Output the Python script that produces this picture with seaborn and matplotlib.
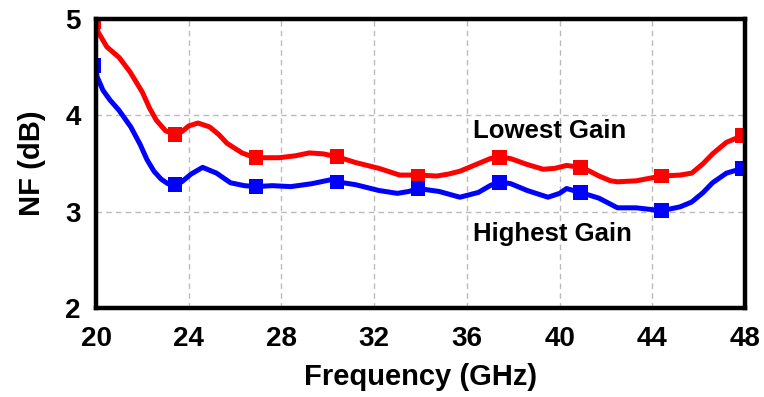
import matplotlib
matplotlib.use("Agg")
import matplotlib.pyplot as plt
import seaborn as sns
import pandas as pd

# Lowest gain curve (red)
low_freq = [19.95, 20.1, 20.47, 21.0, 21.47, 22.0, 22.3, 22.6, 23.0, 23.4, 23.7, 24.0, 24.4, 24.9, 25.3, 25.65, 26.3, 26.86,
            27.9, 28.6, 29.2, 29.8, 30.4, 31.2, 32.2, 33.1, 33.9, 34.7, 35.2, 35.7, 36.5, 37.0, 37.4, 37.9, 38.6, 39.3,
            39.8, 40.3, 40.9, 41.3, 41.7, 42.2, 42.5, 43.3, 44.4, 45.2, 45.7, 46.2, 46.6, 47.2, 47.9]
low_nf = [4.97, 4.86, 4.71, 4.60, 4.45, 4.24, 4.08, 3.95, 3.84, 3.80, 3.83, 3.89, 3.92, 3.88, 3.80, 3.71, 3.61, 3.56,
          3.56, 3.58, 3.61, 3.60, 3.57, 3.51, 3.45, 3.38, 3.38, 3.37, 3.39, 3.42, 3.50, 3.55, 3.57, 3.55, 3.49, 3.44,
          3.45, 3.48, 3.46, 3.42, 3.37, 3.32, 3.31, 3.32, 3.37, 3.38, 3.40, 3.50, 3.60, 3.72, 3.79]

# Highest gain curve (blue)
high_freq = [19.95, 20.05, 20.3, 20.6, 21.0, 21.5, 21.9, 22.2, 22.5, 22.8, 23.1, 23.4, 23.7, 24.1, 24.6, 25.2, 25.8, 26.4, 26.9,
             27.6, 28.4, 29.3, 30.1, 30.4, 31.2, 32.2, 33.0, 33.5, 33.9, 34.8, 35.7, 36.5, 37.0, 37.4, 37.9, 38.6,
             39.5, 40.0, 40.3, 40.9, 41.7, 42.5, 43.3, 44.4, 45.2, 45.7, 46.2, 46.6, 47.2, 47.9]
high_nf = [4.55, 4.40, 4.26, 4.16, 4.05, 3.88, 3.70, 3.54, 3.42, 3.34, 3.29, 3.28, 3.31, 3.39, 3.46, 3.40, 3.30, 3.27, 3.26,
           3.27, 3.26, 3.29, 3.33, 3.31, 3.28, 3.22, 3.19, 3.21, 3.24, 3.21, 3.15, 3.20, 3.27, 3.31, 3.29, 3.22,
           3.15, 3.19, 3.24, 3.20, 3.14, 3.04, 3.04, 3.01, 3.05, 3.10, 3.20, 3.30, 3.40, 3.45]

# Marker positions
mark_freq = [19.9, 23.4, 26.9, 30.4, 33.9, 37.4, 40.9, 44.4, 47.9]
mark_low = [4.97, 3.80, 3.56, 3.57, 3.37, 3.56, 3.46, 3.37, 3.79]
mark_high = [4.52, 3.28, 3.26, 3.31, 3.24, 3.30, 3.20, 3.01, 3.45]

x_ticks = [20, 24, 28, 32, 36, 40, 44, 48]
y_ticks = [2, 3, 4, 5]

sns.set_theme(style="white")
plt.rcParams['font.family'] = ['Liberation Sans', 'DejaVu Sans']
plt.rcParams['font.weight'] = 'bold'
plt.rcParams['text.color'] = 'black'
plt.rcParams['axes.labelcolor'] = 'black'
plt.rcParams['xtick.color'] = 'black'
plt.rcParams['ytick.color'] = 'black'

fig = plt.figure(figsize=(7.64, 3.97), dpi=100)
ax = fig.add_axes([96/764, 1 - 308/397, (745-96)/764, (308-19)/397])

df_low = pd.DataFrame({"Frequency": low_freq, "NF": low_nf})
df_high = pd.DataFrame({"Frequency": high_freq, "NF": high_nf})
sns.lineplot(data=df_low, x="Frequency", y="NF", ax=ax, color="#ff0000", lw=3.6, sort=False, zorder=3)
sns.lineplot(data=df_high, x="Frequency", y="NF", ax=ax, color="#0000ff", lw=3.6, sort=False, zorder=3)
sns.scatterplot(x=mark_freq, y=mark_low, ax=ax, marker="s", s=110, color="#ff0000", edgecolor="none", zorder=4)
sns.scatterplot(x=mark_freq, y=mark_high, ax=ax, marker="s", s=110, color="#0000ff", edgecolor="none", zorder=4)

ax.set_xlim(20, 48)
ax.set_ylim(2, 5)
ax.set_xticks(x_ticks)
ax.set_yticks(y_ticks)
ax.set_xticklabels([str(t) for t in x_ticks], fontsize=20, fontweight='bold', color='black')
ax.set_yticklabels([str(t) for t in y_ticks], fontsize=20, fontweight='bold', color='black')
ax.tick_params(direction='in', length=10, width=3, colors='black')
ax.tick_params(axis='x', pad=13)
ax.tick_params(axis='y', pad=11)
ax.grid(True, color='#bbbbbb', linestyle=(0, (4, 3)), linewidth=1)
for s in ax.spines.values():
    s.set_linewidth(3.2)
    s.set_color('black')
    s.set_zorder(5)

ax.set_xlabel("Frequency (GHz)", fontsize=21, fontweight='bold', labelpad=8, color='black')
ax.set_ylabel("NF (dB)", fontsize=21, fontweight='bold', labelpad=14, color='black')

ax.text(36.26, 3.84, "Lowest Gain", fontsize=18.5, fontweight='bold', color='black',
        ha='left', va='center', zorder=6)
ax.text(36.26, 2.77, "Highest Gain", fontsize=18.5, fontweight='bold', color='black',
        ha='left', va='center', zorder=6)

fig.savefig("out.png", dpi=100)
